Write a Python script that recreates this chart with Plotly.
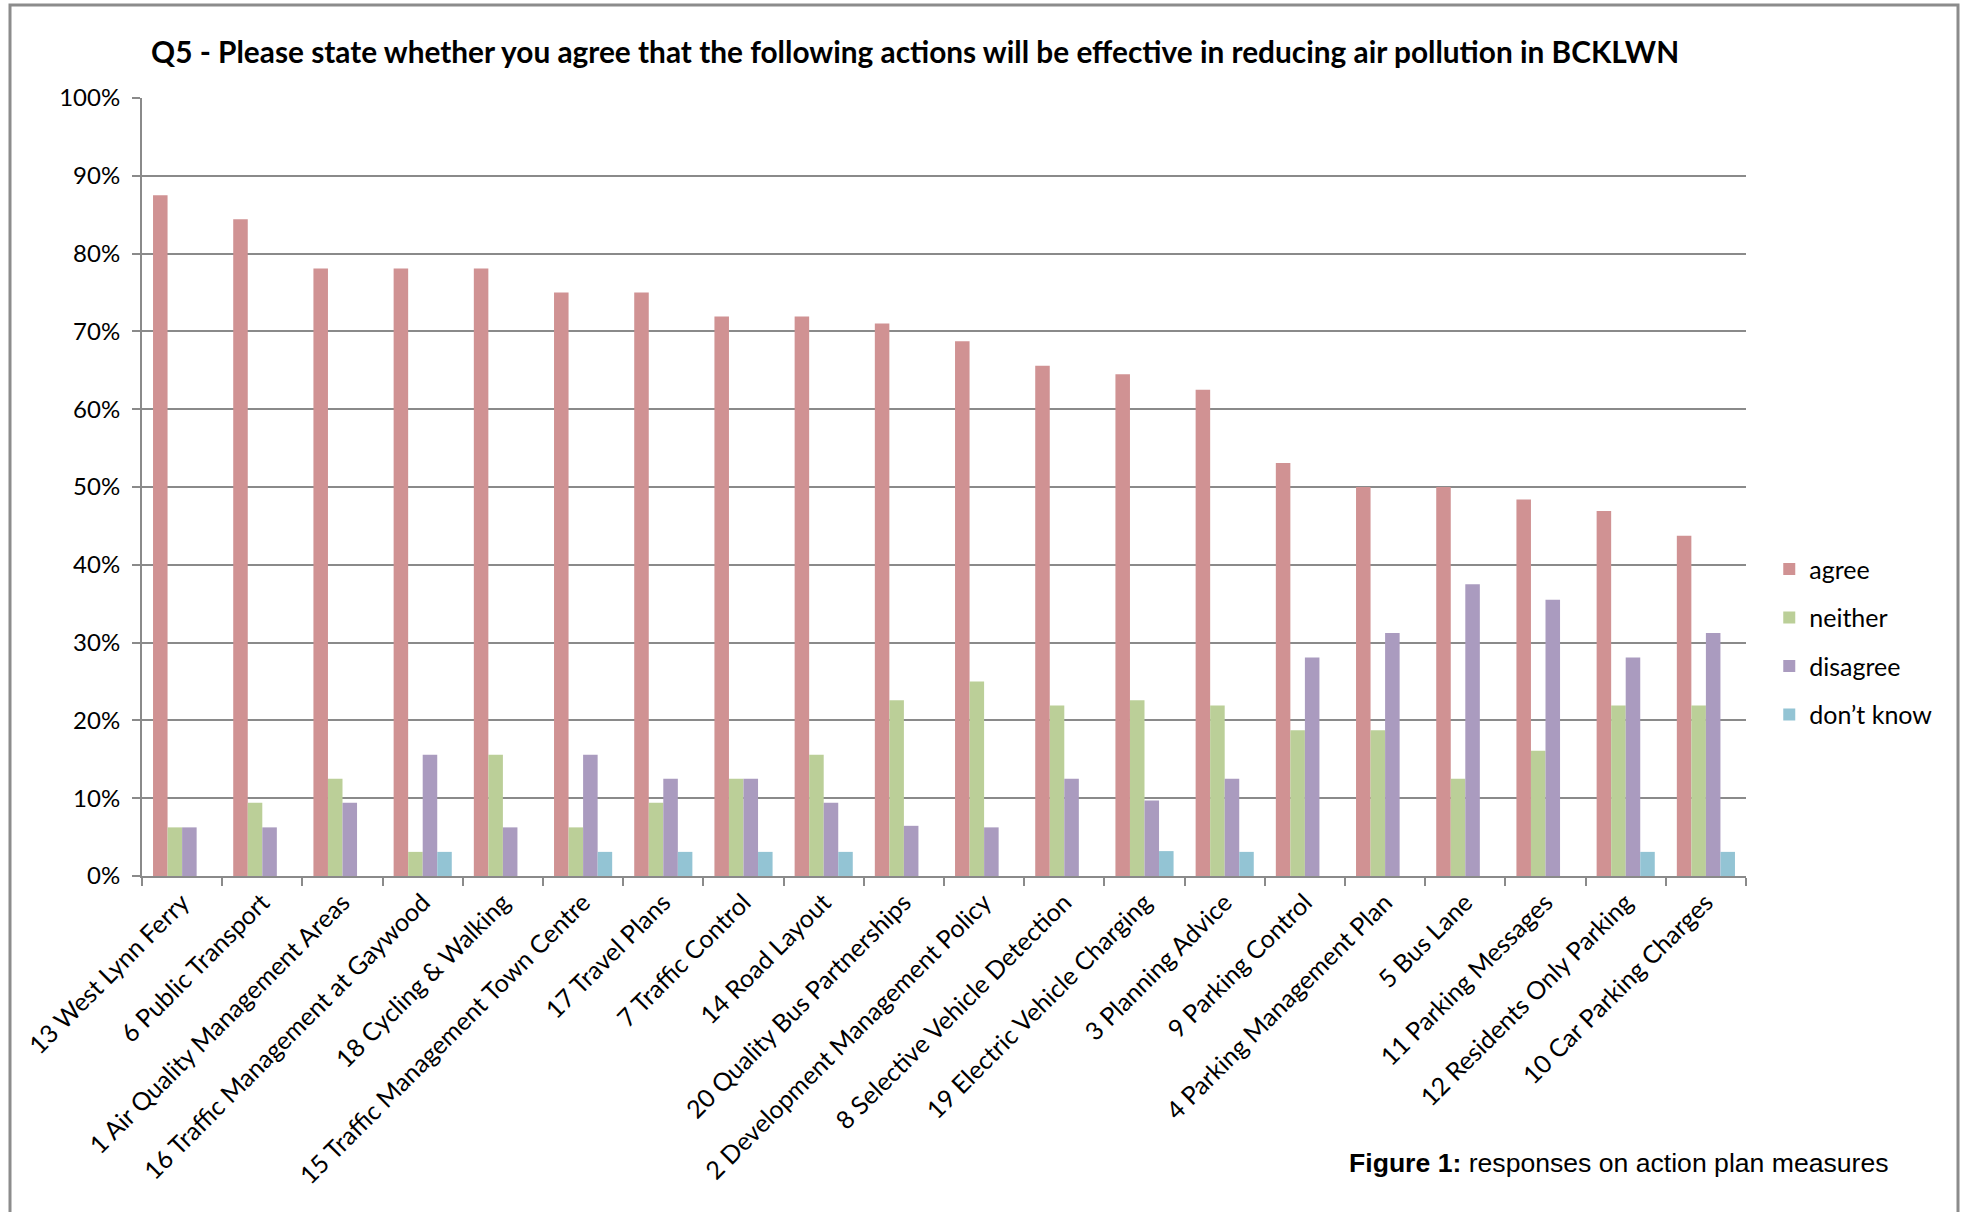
import plotly.graph_objects as go

categories = [
    "13 West Lynn Ferry", "6 Public Transport", "1 Air Quality Management Areas",
    "16 Traffic Management at Gaywood", "18 Cycling & Walking",
    "15 Traffic Management Town Centre", "17 Travel Plans", "7 Traffic Control",
    "14 Road Layout", "20 Quality Bus Partnerships", "2 Development Management Policy",
    "8 Selective Vehicle Detection", "19 Electric Vehicle Charging", "3 Planning Advice",
    "9 Parking Control", "4 Parking Management Plan", "5 Bus Lane",
    "11 Parking Messages", "12 Residents Only Parking", "10 Car Parking Charges",
]
agree = [0.875, 0.844, 0.781, 0.781, 0.781, 0.75, 0.75, 0.719, 0.719, 0.710,
         0.6875, 0.656, 0.645, 0.625, 0.531, 0.50, 0.50, 0.484, 0.469, 0.4375]
neither = [0.0625, 0.094, 0.125, 0.031, 0.156, 0.0625, 0.094, 0.125, 0.156, 0.226,
           0.25, 0.219, 0.226, 0.219, 0.1875, 0.1875, 0.125, 0.161, 0.219, 0.219]
disagree = [0.0625, 0.0625, 0.094, 0.156, 0.0625, 0.156, 0.125, 0.125, 0.094, 0.0645,
            0.0625, 0.125, 0.097, 0.125, 0.281, 0.3125, 0.375, 0.355, 0.281, 0.3125]
dont_know = [0, 0, 0, 0.031, 0, 0.031, 0.031, 0.031, 0.031, 0,
             0, 0, 0.032, 0.031, 0, 0, 0, 0, 0.031, 0.031]

series = [("agree", agree, "#D09293"), ("neither", neither, "#BBCF98"),
          ("disagree", disagree, "#AA9BBF"), ("don\u2019t know", dont_know, "#93C4D4")]

FONT = "Lato"
fig = go.Figure()
for i, (name, vals, col) in enumerate(series):
    fig.add_trace(go.Bar(x=categories, y=vals, name=name, marker_color=col,
                         marker_line_width=0, legendgroup=str(i)))

grid = "#8A8A8A"
fig.update_layout(
    width=1968, height=1212,
    margin=dict(l=142, r=222, t=98, b=336),
    paper_bgcolor="white", plot_bgcolor="white",
    barmode="group", bargap=0.275, bargroupgap=0,
    font=dict(family=FONT, size=24, color="black"),
    title=dict(text="<b>Q5 - Please state whether you agree that the following actions will be effective in reducing air pollution in BCKLWN</b>",
               x=0.465, xanchor="center", y=1 - 53 / 1212, yanchor="middle",
               font=dict(family=FONT, size=29.8, color="black")),
    legend=dict(x=1.0145, xanchor="left", y=0.424, yanchor="top",
                font=dict(family=FONT, size=25), tracegroupgap=13,
                bgcolor="rgba(0,0,0,0)", itemwidth=30),
    showlegend=True,
)
fig.update_xaxes(showline=True, linecolor=grid, linewidth=2, ticks="outside",
                 tickson="boundaries", ticklen=8, tickcolor=grid, tickwidth=2,
                 tickangle=-45, showgrid=False, tickfont=dict(family=FONT, size=25))
fig.update_yaxes(range=[0, 1], dtick=0.1, tickformat=".0%", showline=True,
                 linecolor=grid, linewidth=2, ticks="outside", ticklen=8,
                 tickcolor=grid, tickwidth=2, showgrid=True, gridcolor=grid,
                 gridwidth=2, zeroline=False, ticklabelstandoff=7,
                 tickfont=dict(family=FONT, size=24))

# outer frame
fig.add_shape(type="rect", xref="paper", yref="paper",
              x0=(10 - 142) / 1604, x1=(1958 - 142) / 1604,
              y0=(876 - 1230) / 778, y1=(876 - 5) / 778,
              line=dict(color="#8C8C8C", width=3), fillcolor="rgba(0,0,0,0)", layer="below")

fig.add_annotation(text="<b>Figure 1:</b> responses on action plan measures",
                   xref="paper", yref="paper",
                   x=(1347 - 142) / 1604, xanchor="left",
                   y=(876 - 1163) / 778, yanchor="middle",
                   showarrow=False, font=dict(family="Liberation Sans", size=26.6, color="black"))

fig.write_html("out.html")
